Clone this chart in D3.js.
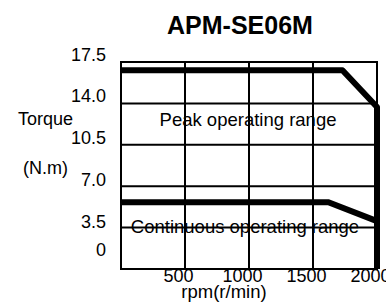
<!DOCTYPE html>
<html>
<head>
<meta charset="utf-8">
<script src="https://cdn.jsdelivr.net/npm/d3@7"></script>
<style>
  body { margin: 0; background: #fff; }
  svg text { font-family: "Liberation Sans", Arial, sans-serif; fill: #000; }
</style>
</head>
<body>
<div id="chart"></div>
<script>
// データ ---------------------------------------------------------------
const chartTitle = 'APM-SE06M';
const yTicks = [17.5, 14.0, 10.5, 7.0, 3.5, 0];
const yTickLabels = ['17.5', '14.0', '10.5', '7.0', '3.5', '0'];
const xTicks = [500, 1000, 1500, 2000];
const xGrid = [0, 500, 1000, 1500, 2000];
const peakRpm = [0, 1730, 2000, 2000];
const peakTorque = [16.8, 16.8, 13.7, 0];
const contRpm = [0, 1620, 2000];
const contTorque = [5.65, 5.65, 4.05];

// SVG領域 -------------------------------------------------------------
const width = 386;
const height = 302;
const margin = {top: 62, right: 9, bottom: 33, left: 121};
const svg = d3.select('#chart').append('svg')
  .attr('width', width)
  .attr('height', height);

const x = d3.scaleLinear()
  .domain([0, 2000])
  .range([margin.left, width - margin.right]);
const y = d3.scaleLinear()
  .domain([0, 17.5])
  .range([height - margin.bottom, margin.top]);
// 目盛り文字は線から少しずれて置かれている
const yLab = d3.scaleLinear()
  .domain([0, 3.5, 17.5])
  .range([y(0) - 14, y(3.5), y(17.5) - 2]);

// グリッド ------------------------------------------------------------
const grid = svg.append('g')
  .attr('stroke', '#000')
  .attr('stroke-width', 2);
grid.selectAll('.hline')
  .data(yTicks)
  .enter()
  .append('line')
  .attr('class', 'hline')
  .attr('x1', x(0) - 1)
  .attr('x2', x(2000) + 1)
  .attr('y1', d => y(d))
  .attr('y2', d => y(d));
grid.selectAll('.vline')
  .data(xGrid)
  .enter()
  .append('line')
  .attr('class', 'vline')
  .attr('x1', d => x(d))
  .attr('x2', d => x(d))
  .attr('y1', y(17.5) - 1)
  .attr('y2', y(0) + 1);

// 曲線 ----------------------------------------------------------------
const line = d3.line()
  .x(d => x(d[0]))
  .y(d => y(d[1]));
svg.append('path')
  .datum(d3.zip(peakRpm, peakTorque))
  .attr('d', line)
  .attr('fill', 'none')
  .attr('stroke', '#000')
  .attr('stroke-width', 6)
  .attr('stroke-linejoin', 'round');
svg.append('path')
  .datum(d3.zip(contRpm, contTorque))
  .attr('d', line)
  .attr('fill', 'none')
  .attr('stroke', '#000')
  .attr('stroke-width', 6);

// 領域ラベル -----------------------------------------------------------
svg.append('text')
  .attr('x', x(1000) - 1)
  .attr('y', y(12.05))
  .attr('text-anchor', 'middle')
  .attr('font-size', 18.5)
  .text('Peak operating range');
svg.append('text')
  .attr('x', x(1000) - 4)
  .attr('y', y(3.08))
  .attr('text-anchor', 'middle')
  .attr('font-size', 18.5)
  .text('Continuous operating range');

// 軸 ------------------------------------------------------------------
const yAxis = svg.append('g')
  .attr('transform', 'translate(' + (margin.left - 15) + ',0)')
  .call(d3.axisLeft(yLab).tickValues(yTicks).tickSize(0)
    .tickFormat((d, i) => yTickLabels[i]));
yAxis.select('.domain').remove();
yAxis.selectAll('text')
  .attr('x', 0)
  .attr('dy', 0)
  .attr('font-size', 18)
  .attr('font-family', null);

const xAxis = svg.append('g')
  .attr('transform', 'translate(0,' + y(0) + ')')
  .call(d3.axisBottom(x).tickValues(xTicks).tickSize(0).tickFormat(d3.format('d')));
xAxis.select('.domain').remove();
xAxis.selectAll('text')
  .attr('x', -7)
  .attr('y', 0)
  .attr('dy', '0.71em')
  .attr('font-size', 18)
  .attr('font-family', null);

// 軸タイトル・表題 ------------------------------------------------------
svg.append('text')
  .attr('x', 18)
  .attr('y', 125)
  .attr('font-size', 18)
  .text('Torque');
svg.append('text')
  .attr('x', 23)
  .attr('y', 174)
  .attr('font-size', 18)
  .text('(N.m)');
svg.append('text')
  .attr('x', 224)
  .attr('y', 298)
  .attr('text-anchor', 'middle')
  .attr('font-size', 18.5)
  .text('rpm(r/min)');
svg.append('text')
  .attr('x', 240)
  .attr('y', 34)
  .attr('text-anchor', 'middle')
  .attr('font-size', 25)
  .attr('font-weight', 'bold')
  .text(chartTitle);
</script>
</body>
</html>
